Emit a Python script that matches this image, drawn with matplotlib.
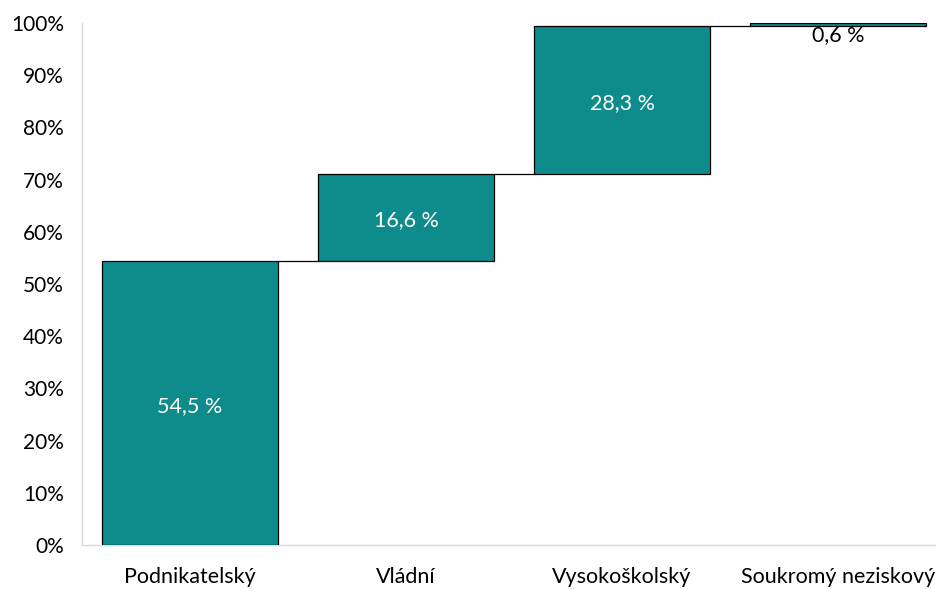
import matplotlib.pyplot as plt
import numpy as np

plt.rcParams['font.family'] = ['Lato', 'DejaVu Sans']

categories = ['Podnikatelský', 'Vládní', 'Vysokoškolský', 'Soukromý neziskový']
values = [54.5, 16.6, 28.3, 0.6]
labels = ['54,5 %', '16,6 %', '28,3 %', '0,6 %']
yticks = [0, 10, 20, 30, 40, 50, 60, 70, 80, 90, 100]

teal = '#0E8C8C'
x = np.arange(len(categories))
bottoms = np.concatenate(([0], np.cumsum(values)[:-1]))
tops = bottoms + np.array(values)

fig = plt.figure(figsize=(9.36, 5.89), dpi=100)
ax = fig.add_axes([82/936, 44/589, 864/936, 522/589])

ax.bar(x, values, bottom=bottoms, width=0.815, color=teal, edgecolor='black', linewidth=0.9, zorder=3)

# connector lines
for i in range(len(values) - 1):
    ax.plot([x[i] + 0.4075, x[i+1] - 0.4075], [tops[i], tops[i]], color='black', lw=0.9, zorder=2)

for i, (v, lab) in enumerate(zip(values, labels)):
    if v > 5:
        ax.text(x[i], bottoms[i] + v/2 - 0.6, lab, ha='center', va='center', color='white', fontsize=15.5)
    else:
        ax.text(x[i], bottoms[i] - 1.8, lab, ha='center', va='center', color='black', fontsize=15.5)

ax.set_xlim(-0.5, len(categories) - 0.5)
ax.set_ylim(0, 100)
ax.set_yticks(yticks)
ax.set_yticklabels([f'{t}%' for t in yticks], fontsize=15)
ax.set_xticks(x)
ax.set_xticklabels(categories, fontsize=15.5)
ax.tick_params(length=0)
ax.tick_params(axis='x', pad=16)
ax.tick_params(axis='y', pad=13)
for s in ['top', 'right']:
    ax.spines[s].set_visible(False)
for s in ['left', 'bottom']:
    ax.spines[s].set_color('#d9d9d9')
    ax.spines[s].set_linewidth(1)

fig.savefig('out.png', dpi=100)
